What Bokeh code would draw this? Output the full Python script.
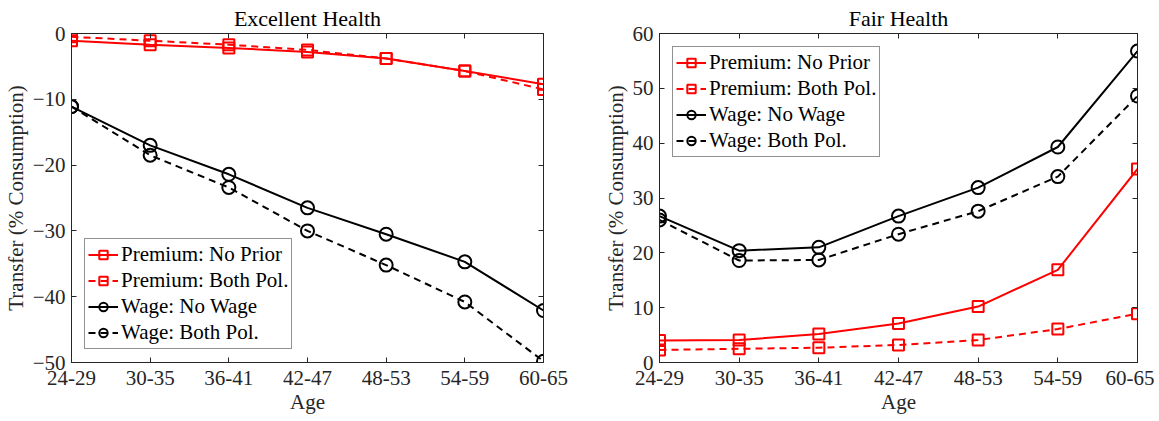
from bokeh.plotting import figure
from bokeh.models import LinearAxis, FixedTicker, Range1d, Legend, LegendItem
from bokeh.layouts import row
from bokeh.embed import file_html
from bokeh.resources import INLINE

ages = ["24-29", "30-35", "36-41", "42-47", "48-53", "54-59", "60-65"]

exc_prem_noprior = [-1.1, -1.7, -2.2, -2.8, -3.8, -5.7, -7.7]
exc_prem_both = [-0.5, -1.1, -1.7, -2.5, -3.8, -5.7, -8.5]
exc_wage_nowage = [-11.1, -17.0, -21.4, -26.5, -30.5, -34.7, -42.1]
exc_wage_both = [-11.1, -18.5, -23.4, -30.0, -35.2, -40.8, -49.8]

fair_prem_noprior = [4.0, 4.1, 5.2, 7.1, 10.2, 16.9, 35.3]
fair_prem_both = [2.3, 2.5, 2.7, 3.2, 4.1, 6.1, 8.9]
fair_wage_nowage = [26.7, 20.4, 21.0, 26.7, 31.9, 39.3, 56.8]
fair_wage_both = [26.0, 18.6, 18.7, 23.4, 27.6, 33.9, 48.6]

labels = ["Premium: No Prior", "Premium: Both Pol.", "Wage: No Wage", "Wage: Both Pol."]

FONT = "Liberation Serif"
AX = "#262626"
RED = "#FF0000"
BLACK = "#000000"
DASH = "7 5"


def make_panel(title, series, yr, yticks, legend_loc, mb_left, fw, mb_right):
    xs = list(range(len(ages)))
    p = figure(output_backend="svg", toolbar_location=None,
               frame_width=fw, frame_height=329,
               min_border_left=mb_left, min_border_right=mb_right,
               min_border_top=26, min_border_bottom=58,
               x_range=Range1d(0, len(ages) - 1), y_range=Range1d(*yr),
               title=title)
    p.grid.visible = False
    p.outline_line_color = AX
    p.title.align = "center"
    p.title.text_font = FONT
    p.title.text_font_size = "22px"
    p.title.text_font_style = "normal"
    p.title.text_color = BLACK
    p.title.standoff = 6

    for ax in [p.xaxis[0], p.yaxis[0]]:
        ax.axis_line_color = AX
        ax.major_tick_line_color = AX
        ax.major_tick_in = 5
        ax.major_tick_out = 0
        ax.minor_tick_line_color = None
        ax.major_label_text_font = FONT
        ax.major_label_text_font_size = "21px"
        ax.major_label_text_color = AX
        ax.axis_label_text_font = FONT
        ax.axis_label_text_font_size = "21px"
        ax.axis_label_text_font_style = "normal"
        ax.axis_label_text_color = AX
    p.xaxis.ticker = FixedTicker(ticks=xs)
    p.xaxis.major_label_overrides = {i: a for i, a in enumerate(ages)}
    p.xaxis.axis_label = "Age"
    p.xaxis.major_label_standoff = 8
    p.xaxis.axis_label_standoff = 2
    p.yaxis.ticker = FixedTicker(ticks=yticks)
    p.yaxis.axis_label = "Transfer (% Consumption)"
    p.yaxis.major_label_standoff = 6
    p.yaxis.axis_label_standoff = 2

    top = LinearAxis(ticker=FixedTicker(ticks=xs), major_label_text_font_size="0px",
                     major_label_text_color=None,
                     major_label_standoff=0, major_tick_in=5, major_tick_out=0,
                     minor_tick_line_color=None, axis_line_color=AX,
                     major_tick_line_color=AX)
    right = LinearAxis(ticker=FixedTicker(ticks=yticks), major_label_text_font_size="0px",
                       major_label_text_color=None,
                       major_label_standoff=0, major_tick_in=5, major_tick_out=0,
                       minor_tick_line_color=None, axis_line_color=AX,
                       major_tick_line_color=AX)
    p.add_layout(top, "above")
    p.add_layout(right, "right")

    items = []
    styles = [(RED, "solid", "square", 11), (RED, DASH, "square", 11),
              (BLACK, "solid", "circle", 13), (BLACK, DASH, "circle", 13)]
    for (col, dash, mk, sz), ys, lab in zip(styles, series, labels):
        ln = p.line(xs, ys, line_color=col, line_width=2, line_dash=dash)
        sc = p.scatter(xs, ys, marker=mk, size=sz, line_color=col, line_width=2,
                       fill_color=None)
        items.append(LegendItem(label=lab, renderers=[ln, sc]))
    leg = Legend(items=items, location=legend_loc, margin=13,
                 label_text_font=FONT, label_text_font_size="21px",
                 label_text_color=BLACK, label_height=21, glyph_height=21,
                 glyph_width=30, spacing=1, padding=3, label_standoff=3,
                 border_line_color=AX, border_line_width=1,
                 background_fill_color="white", background_fill_alpha=1)
    p.add_layout(leg, "center")
    return p


p1 = make_panel("Excellent Health",
                [exc_prem_noprior, exc_prem_both, exc_wage_nowage, exc_wage_both],
                (-50, 0), [-50, -40, -30, -20, -10, 0], "bottom_left", 60, 472, 56)
p2 = make_panel("Fair Health",
                [fair_prem_noprior, fair_prem_both, fair_wage_nowage, fair_wage_both],
                (0, 60), [0, 10, 20, 30, 40, 50, 60], "top_left", 60, 478, 17)

layout = row(p1, p2)
open("out.html", "w").write(file_html(layout, INLINE))
